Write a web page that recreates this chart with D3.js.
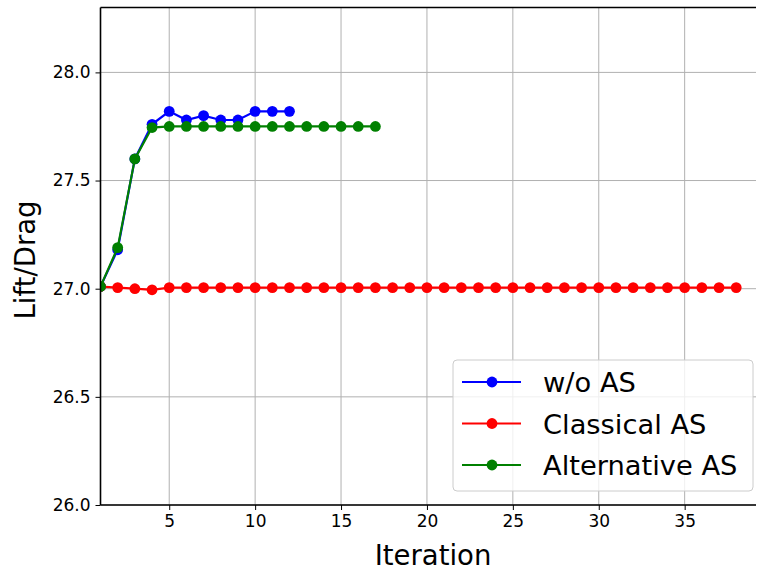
<!DOCTYPE html>
<html><head><meta charset="utf-8">
<script src="https://cdn.jsdelivr.net/npm/d3@7"></script>
<style>html,body{margin:0;padding:0;background:#fff;overflow:hidden}svg{display:block}</style>
</head><body>
<svg id="c" width="757" height="570"></svg>
<script>
const iterWo = [1,2,3,4,5,6,7,8,9,10,11,12];
const liftWo = [27.01,27.18,27.60,27.76,27.82,27.78,27.80,27.78,27.78,27.82,27.82,27.82];
const iterClassical = d3.range(1,39);
const liftClassical = [27.01,27.005,27.0,26.995].concat(new Array(34).fill(27.005));
const iterAlt = d3.range(1,18);
const liftAlt = [27.01,27.19,27.60,27.745,27.75,27.75,27.75,27.75,27.75,27.75,27.75,27.75,27.75,27.75,27.75,27.75,27.75];
const xTicks = [5,10,15,20,25,30,35];
const yTicks = [26.0,26.5,27.0,27.5,28.0];
const seriesNames = ["w/o AS","Classical AS","Alternative AS"];
const seriesColors = ["#0000ff","#ff0000","#008000"];

const svg = d3.select("#c");
const L = 100.5, R = 768, T = 7.5, B = 505;
const x = d3.scaleLinear().domain([1, 39.85]).range([L, R]);
const y = d3.scaleLinear().domain([26, 28.3]).range([B, T]);
const font = "DejaVu Sans";

// grid
const g = svg.append("g");
g.selectAll(".gx").data(xTicks).enter().append("line")
  .attr("x1", d=>x(d)).attr("x2", d=>x(d)).attr("y1", T).attr("y2", B)
  .attr("stroke", "#b0b0b0").attr("stroke-width", 1);
g.selectAll(".gy").data(yTicks).enter().append("line")
  .attr("x1", L).attr("x2", 756).attr("y1", d=>y(d)).attr("y2", d=>y(d))
  .attr("stroke", "#b0b0b0").attr("stroke-width", 1);

// series
const data = [
  iterWo.map((v,i)=>[v, liftWo[i]]),
  iterClassical.map((v,i)=>[v, liftClassical[i]]),
  iterAlt.map((v,i)=>[v, liftAlt[i]])
];
const line = d3.line().x(d=>x(d[0])).y(d=>y(d[1]));
svg.append("clipPath").attr("id","pc").append("rect")
  .attr("x", L).attr("y", T).attr("width", R-L).attr("height", B-T);
const plot = svg.append("g").attr("clip-path","url(#pc)");
data.forEach((s,i)=>{
  plot.append("path").attr("d", line(s)).attr("fill","none")
    .attr("stroke", seriesColors[i]).attr("stroke-width", 2.2);
  plot.selectAll(null).data(s).enter().append("circle")
    .attr("cx", d=>x(d[0])).attr("cy", d=>y(d[1])).attr("r", 5.4)
    .attr("fill", seriesColors[i]);
});

// axes
const xa = svg.append("g").attr("transform", `translate(0,${B})`)
  .call(d3.axisBottom(x).tickValues(xTicks).tickFormat(d3.format("d")).tickSizeOuter(0).tickSize(5).tickPadding(5));
const ya = svg.append("g").attr("transform", `translate(${L},0)`)
  .call(d3.axisLeft(y).tickValues(yTicks).tickFormat(d3.format(".1f")).tickSizeOuter(0).tickSize(5).tickPadding(5));
[xa, ya].forEach(a=>{
  a.select(".domain").remove();
  a.selectAll(".tick line").attr("stroke","#000").attr("stroke-width",1);
  a.selectAll(".tick text").attr("font-family", font).attr("font-size", 17).attr("fill","#000");
});
// spines
svg.append("line").attr("x1", L).attr("x2", L).attr("y1", T).attr("y2", B).attr("stroke","#000").attr("stroke-width",1.6);
svg.append("line").attr("x1", L).attr("x2", 756).attr("y1", B).attr("y2", B).attr("stroke","#000").attr("stroke-width",1.6);
svg.append("line").attr("x1", L).attr("x2", 756).attr("y1", T).attr("y2", T).attr("stroke","#000").attr("stroke-width",1.6);

// axis labels
svg.append("text").attr("x", 433).attr("y", 565).attr("text-anchor","middle")
  .attr("font-family", font).attr("font-size", 27.5).text("Iteration");
svg.append("text").attr("transform","translate(35,260) rotate(-90)").attr("text-anchor","middle")
  .attr("font-family", font).attr("font-size", 27.5).text("Lift/Drag");

// legend
const lg = svg.append("g");
lg.append("rect").attr("x", 453).attr("y", 360).attr("width", 300).attr("height", 131)
  .attr("rx", 4).attr("fill","#fff").attr("fill-opacity",0.8).attr("stroke","#cccccc").attr("stroke-width",1);
seriesNames.forEach((n,i)=>{
  const cy = 382 + i*41.5;
  lg.append("line").attr("x1", 462).attr("x2", 521).attr("y1", cy).attr("y2", cy)
    .attr("stroke", seriesColors[i]).attr("stroke-width", 2.2);
  lg.append("circle").attr("cx", 492).attr("cy", cy).attr("r", 5.4).attr("fill", seriesColors[i]);
  lg.append("text").attr("x", 543).attr("y", cy + 10).attr("font-family", font).attr("font-size", 27.3)
    .attr("fill","#000").text(n);
});
</script>
</body></html>
